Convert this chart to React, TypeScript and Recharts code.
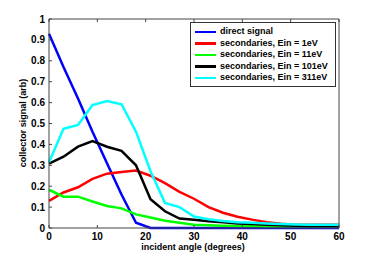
import { LineChart, Line, XAxis, YAxis, Legend } from 'recharts';

const angles = [0, 3, 6, 9, 12, 15, 18, 21, 24, 27, 30, 33, 36, 39, 42, 45, 48, 51, 54, 57, 60];
const direct = [0.93, 0.77, 0.62, 0.46, 0.31, 0.16, 0.025, 0, 0, 0, 0, 0, 0, 0, 0, 0, 0, 0, 0, 0, 0];
const ein1 = [0.13, 0.17, 0.195, 0.235, 0.26, 0.268, 0.275, 0.25, 0.215, 0.173, 0.14, 0.1, 0.073, 0.054, 0.04, 0.028, 0.02, 0.016, 0.015, 0.015, 0.015];
const ein11 = [0.183, 0.15, 0.15, 0.127, 0.105, 0.094, 0.065, 0.05, 0.035, 0.025, 0.016, 0.013, 0.011, 0.01, 0.009, 0.008, 0.008, 0.008, 0.008, 0.008, 0.008];
const ein101 = [0.308, 0.341, 0.389, 0.416, 0.389, 0.369, 0.3, 0.138, 0.08, 0.045, 0.04, 0.032, 0.027, 0.022, 0.019, 0.016, 0.013, 0.011, 0.009, 0.009, 0.01];
const ein311 = [0.315, 0.475, 0.493, 0.588, 0.608, 0.592, 0.461, 0.272, 0.12, 0.1, 0.055, 0.042, 0.034, 0.028, 0.025, 0.022, 0.019, 0.017, 0.016, 0.016, 0.016];
const xTicks = [0, 10, 20, 30, 40, 50, 60];
const yTicks = [0, 0.1, 0.2, 0.3, 0.4, 0.5, 0.6, 0.7, 0.8, 0.9, 1];

const series = [
  { key: 'direct', name: 'direct signal', color: '#0000ff' },
  { key: 'ein1', name: 'secondaries, Ein = 1eV', color: '#ff0000' },
  { key: 'ein11', name: 'secondaries, Ein = 11eV', color: '#00ff00' },
  { key: 'ein101', name: 'secondaries, Ein = 101eV', color: '#000000' },
  { key: 'ein311', name: 'secondaries, Ein = 311eV', color: '#00ffff' },
];

const data = angles.map((a, i) => ({
  angle: a,
  direct: direct[i],
  ein1: ein1[i],
  ein11: ein11[i],
  ein101: ein101[i],
  ein311: ein311[i],
}));

const font = "'Liberation Sans', Arial, sans-serif";
const axisColor = '#444';

const BottomTick = (props: any) => {
  const { x, y, payload } = props;
  return (
    <g>
      <line x1={x} y1={y} x2={x} y2={y - 3} stroke={axisColor} />
      <text x={x} y={y + 12} textAnchor="middle" fontSize={10} fontWeight="bold" fill="#000" fontFamily={font}>
        {payload.value}
      </text>
    </g>
  );
};

const LeftTick = (props: any) => {
  const { x, y, payload } = props;
  return (
    <g>
      <line x1={x} y1={y} x2={x + 3} y2={y} stroke={axisColor} />
      <text x={x - 4} y={y + 3.5} textAnchor="end" fontSize={10} fontWeight="bold" fill="#000" fontFamily={font}>
        {payload.value}
      </text>
    </g>
  );
};

const TopTick = (props: any) => {
  const { x, y } = props;
  return <line x1={x} y1={y} x2={x} y2={y + 3} stroke={axisColor} />;
};

const RightTick = (props: any) => {
  const { x, y } = props;
  return <line x1={x} y1={y} x2={x - 3} y2={y} stroke={axisColor} />;
};

const LegendBox = () => (
  <div
    style={{
      border: '1px solid #333',
      background: '#fff',
      padding: '3px 4px 2px 4px',
      fontFamily: font,
      fontWeight: 'bold',
      fontSize: 9,
      lineHeight: '11.6px',
      width: 146,
      boxSizing: 'border-box',
    }}
  >
    {series.map((s) => (
      <div key={s.key} style={{ display: 'flex', alignItems: 'center', whiteSpace: 'nowrap' }}>
        <span style={{ display: 'inline-block', width: 21, height: 2.5, background: s.color, marginRight: 4 }} />
        <span>{s.name}</span>
      </div>
    ))}
  </div>
);

export default function App() {
  return (
    <div style={{ position: 'absolute', left: 0, top: 0, width: 374, height: 256, background: '#fff' }}>
      <LineChart width={374} height={256} data={data} margin={{ top: 19, right: 35, left: 0, bottom: 0 }}>
        <XAxis
          dataKey="angle"
          type="number"
          domain={[0, 60]}
          ticks={xTicks}
          height={28}
          tickSize={0}
          tickMargin={0}
          tickLine={false}
          stroke={axisColor}
          tick={BottomTick}
          interval={0}
        />
        <XAxis
          xAxisId="top"
          dataKey="angle"
          type="number"
          orientation="top"
          domain={[0, 60]}
          ticks={xTicks}
          mirror
          tickSize={0}
          tickMargin={0}
          tickLine={false}
          stroke={axisColor}
          tick={TopTick}
          interval={0}
        />
        <YAxis
          type="number"
          domain={[0, 1]}
          ticks={yTicks}
          width={49}
          tickSize={0}
          tickMargin={0}
          tickLine={false}
          stroke={axisColor}
          tick={LeftTick}
          interval={0}
        />
        <YAxis
          yAxisId="right"
          type="number"
          orientation="right"
          domain={[0, 1]}
          ticks={yTicks}
          mirror
          tickSize={0}
          tickMargin={0}
          tickLine={false}
          stroke={axisColor}
          tick={RightTick}
          interval={0}
        />
        <Legend
          verticalAlign="middle"
          align="center"
          layout="horizontal"
          content={() => <LegendBox />}
          wrapperStyle={{ position: 'absolute', left: 190, top: 22, width: 146 }}
        />
        {series.map((s) => (
          <Line
            key={s.key}
            type="linear"
            dataKey={s.key}
            name={s.name}
            stroke={s.color}
            strokeWidth={2.5}
            dot={false}
            isAnimationActive={false}
          />
        ))}
        <text x={193} y={250} textAnchor="middle" fontSize={9} fontWeight="bold" fontFamily={font} fill="#000">
          incident angle (degrees)
        </text>
        <text
          x={26}
          y={123}
          textAnchor="middle"
          fontSize={9}
          fontWeight="bold"
          fontFamily={font}
          fill="#000"
          transform="rotate(-90 26 123)"
        >
          collector signal (arb)
        </text>
      </LineChart>
    </div>
  );
}
